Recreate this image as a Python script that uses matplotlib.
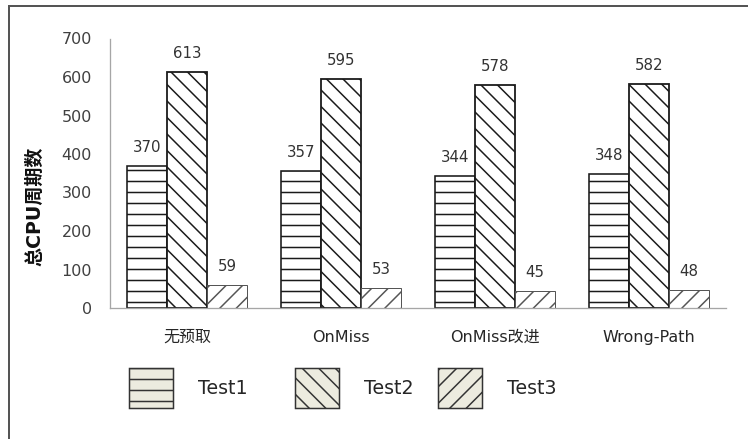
import matplotlib
matplotlib.use("Agg")
import matplotlib.pyplot as plt
import numpy as np
from matplotlib.patches import Patch
from matplotlib.lines import Line2D

# data
categories = ['无预取', 'OnMiss', 'OnMiss改进', 'Wrong-Path']
series_names = ['Test1', 'Test2', 'Test3']
test1 = [370, 357, 344, 348]
test2 = [613, 595, 578, 582]
test3 = [59, 53, 45, 48]
yticks = [0, 100, 200, 300, 400, 500, 600, 700]

DPI = 198
P = 72 / DPI          # one pixel in points
W, H = 748, 439

plt.rcParams['font.family'] = ['DejaVu Sans', 'Noto Sans CJK SC']
plt.rcParams['hatch.linewidth'] = 1.5 * P

fig = plt.figure(figsize=(W / DPI, H / DPI), dpi=DPI)
ax = fig.add_axes([110 / W, 1 - 308 / H, 616 / W, (308 - 38.5) / H])

x = np.arange(len(categories))
bw = 40 / 154
values = [test1, test2, test3]
BS = chr(92)
hatches = ['---', BS * 4, '////']
edges = ['#1a1a1a', '#1a1a1a', '#555555']
lws = [1.6 * P, 1.8 * P, 1.0 * P]

for i, (vals, hat, ec, lw) in enumerate(zip(values, hatches, edges, lws)):
    bars = ax.bar(x + (i - 1) * bw, vals, bw, facecolor='white', edgecolor=ec,
                  hatch=hat, linewidth=lw)
    for b, v in zip(bars, vals):
        ax.annotate(str(v), (b.get_x() + b.get_width() / 2, v),
                    xytext=(0, 11 * P), textcoords='offset points',
                    ha='center', va='bottom', fontsize=15 * P, color='#333333')

ax.set_xlim(-0.5, len(categories) - 0.5)
ax.set_ylim(0, 700)
ax.set_yticks(yticks)
ax.set_xticks(x)
ax.set_xticklabels(categories)
ax.tick_params(axis='y', length=0, pad=18 * P, labelsize=16 * P, labelcolor='#404040')
ax.tick_params(axis='x', length=0, pad=22 * P, labelsize=16 * P, labelcolor='#262626')
for s in ['top', 'right']:
    ax.spines[s].set_visible(False)
for s in ['left', 'bottom']:
    ax.spines[s].set_color('#a6a6a6')
    ax.spines[s].set_linewidth(1.3 * P)

fig.text(35 / W, 1 - 206 / H, '总CPU周期数', rotation=90, ha='center', va='center',
         fontsize=19 * P, fontweight='bold', color='#111111')

# legend, one entry at a time to keep the uneven spacing
leg_x = [129, 295, 438]
lfs = 19
for name, hat, lx in zip(series_names, hatches, leg_x):
    h = Patch(facecolor='#ecebdf', edgecolor='#333333', hatch=hat, linewidth=1.5 * P)
    lg = fig.legend(handles=[h], labels=[name], loc='center left',
                    bbox_to_anchor=(lx / W, 1 - 388 / H), frameon=False,
                    fontsize=lfs * P, handlelength=44 / lfs, handleheight=41 / lfs + 0.7,
                    handletextpad=25 / lfs, borderpad=0, borderaxespad=0)
    for t in lg.get_texts():
        t.set_color('#262626')

# outer frame of the chart area
fig.add_artist(Line2D([9 / W, 1], [1 - 6 / H, 1 - 6 / H], color='#555555', linewidth=2 * P))
fig.add_artist(Line2D([9 / W, 9 / W], [0, 1 - 6 / H], color='#555555', linewidth=2 * P))

fig.savefig('out.png', dpi=DPI)
